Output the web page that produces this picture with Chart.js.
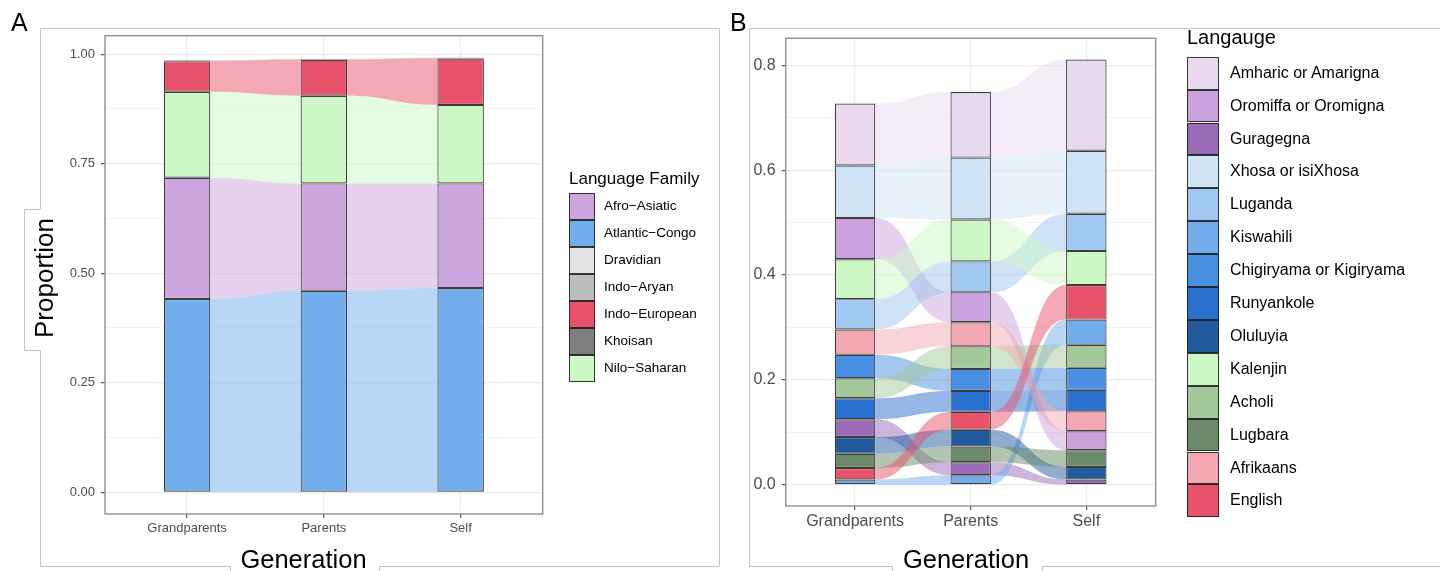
<!DOCTYPE html>
<html>
<head>
<meta charset="utf-8">
<script src="https://cdn.jsdelivr.net/npm/chart.js@4.4.1/dist/chart.umd.min.js"></script>
<style>
  body { margin: 0; background: #fff; }
  #page { position: relative; width: 1440px; height: 571px; overflow: hidden; font-family: "Liberation Sans", Arial, Helvetica, sans-serif; }
  canvas { position: absolute; top: 0; }
  .ln { position: absolute; background: #c4c4c4; }
  .txt { position: absolute; white-space: nowrap; color: #000; }
  .key { position: absolute; box-sizing: border-box; border: 1.5px solid rgba(25,25,25,0.85); }
</style>
</head>
<body>
<div id="page">
  <canvas id="chartA" width="720" height="571" style="left:0"></canvas>
  <canvas id="chartB" width="720" height="571" style="left:720px"></canvas>
</div>
<script>
const FONT = '"Liberation Sans", Arial, Helvetica, sans-serif';
const generations = ['Grandparents', 'Parents', 'Self'];

// A: language family, values per generation (legend order)
const families = ['Afro−Asiatic', 'Atlantic−Congo', 'Dravidian', 'Indo−Aryan', 'Indo−European', 'Khoisan', 'Nilo−Saharan'];
const familyColors = ['#cda6e0', '#72aeec', '#e3e3e3', '#bdbdbd', '#e8536b', '#7f7f7f', '#ccf8c6'];
const familyGrandparents = [0.277, 0.441, 0.0005, 0.001, 0.070, 0.001, 0.196];
const familyParents      = [0.245, 0.460, 0.0005, 0.001, 0.082, 0.001, 0.200];
const familySelf         = [0.239, 0.466, 0.0005, 0.001, 0.106, 0.001, 0.179];
// stacking, bottom to top
const familyStack = ['Atlantic−Congo', 'Afro−Asiatic', 'Nilo−Saharan', 'Indo−European', 'Khoisan', 'Indo−Aryan', 'Dravidian'];
const familyTicks = [0, 0.25, 0.5, 0.75, 1];

// B: language
const languages = ['Amharic or Amarigna', 'Oromiffa or Oromigna', 'Guragegna', 'Xhosa or isiXhosa', 'Luganda', 'Kiswahili',
  'Chigiryama or Kigiryama', 'Runyankole', 'Oluluyia', 'Kalenjin', 'Acholi', 'Lugbara', 'Afrikaans', 'English'];
const languageColors = ['#e9d9ee', '#cba2de', '#9a6bb6', '#cfe3f6', '#a0c8f0', '#72aeec', '#4a90e2', '#2a70cf',
  '#225a9e', '#ccf8c6', '#a3c99a', '#6a8a68', '#f2a7b2', '#e8536b'];
const langGrandparents = [0.118, 0.079, 0.034, 0.100, 0.058, 0.010, 0.045, 0.040, 0.032, 0.076, 0.038, 0.027, 0.048, 0.022];
const langParents      = [0.125, 0.057, 0.025, 0.118, 0.059, 0.018, 0.042, 0.040, 0.032, 0.080, 0.043, 0.030, 0.046, 0.034];
const langSelf         = [0.174, 0.036, 0.010, 0.120, 0.071, 0.048, 0.042, 0.041, 0.024, 0.065, 0.044, 0.032, 0.038, 0.066];
const stackGrandparents = ['Kiswahili', 'English', 'Lugbara', 'Oluluyia', 'Guragegna', 'Runyankole', 'Acholi',
  'Chigiryama or Kigiryama', 'Afrikaans', 'Luganda', 'Kalenjin', 'Oromiffa or Oromigna', 'Xhosa or isiXhosa', 'Amharic or Amarigna'];
const stackParents = ['Kiswahili', 'Guragegna', 'Lugbara', 'Oluluyia', 'English', 'Runyankole', 'Chigiryama or Kigiryama',
  'Acholi', 'Afrikaans', 'Oromiffa or Oromigna', 'Luganda', 'Kalenjin', 'Xhosa or isiXhosa', 'Amharic or Amarigna'];
const stackSelf = ['Guragegna', 'Oluluyia', 'Lugbara', 'Oromiffa or Oromigna', 'Afrikaans', 'Runyankole', 'Chigiryama or Kigiryama',
  'Acholi', 'Kiswahili', 'English', 'Kalenjin', 'Luganda', 'Xhosa or isiXhosa', 'Amharic or Amarigna'];
const languageTicks = [0, 0.2, 0.4, 0.6, 0.8];

function stackColumn(names, values, order) {
  const out = {};
  let base = 0;
  order.forEach(n => {
    const v = values[names.indexOf(n)];
    out[n] = [base, base + v];
    base += v;
  });
  return out;
}

function rgba(hex, a) {
  const n = parseInt(hex.slice(1), 16);
  return `rgba(${n >> 16},${(n >> 8) & 255},${n & 255},${a})`;
}

// flows between neighbouring columns + panel border
function flowPlugin(names, colors, cols, half) {
  return {
    id: 'flows',
    beforeDatasetsDraw(chart) {
      const {ctx, chartArea, scales: {x, y}} = chart;
      ctx.save();
      ctx.beginPath();
      ctx.rect(chartArea.left, chartArea.top, chartArea.width, chartArea.height);
      ctx.clip();
      for (let j = 0; j < cols.length - 1; j++) {
        const x0 = x.getPixelForValue(j + 1 + half);
        const x1 = x.getPixelForValue(j + 2 - half);
        const xm = (x0 + x1) / 2;
        names.forEach((n, i) => {
          const a = cols[j][n], b = cols[j + 1][n];
          const t0 = y.getPixelForValue(a[1]), b0 = y.getPixelForValue(a[0]);
          const t1 = y.getPixelForValue(b[1]), b1 = y.getPixelForValue(b[0]);
          ctx.beginPath();
          ctx.moveTo(x0, t0);
          ctx.bezierCurveTo(xm, t0, xm, t1, x1, t1);
          ctx.lineTo(x1, b1);
          ctx.bezierCurveTo(xm, b1, xm, b0, x0, b0);
          ctx.closePath();
          ctx.fillStyle = rgba(colors[i], 0.5);
          ctx.fill();
        });
      }
      ctx.restore();
    },
    afterDatasetsDraw(chart) {
      const {ctx, chartArea: c} = chart;
      ctx.save();
      ctx.strokeStyle = '#8f8f8f';
      ctx.lineWidth = 1.4;
      ctx.strokeRect(c.left, c.top, c.width, c.height);
      ctx.restore();
    }
  };
}

function alluvial(id, names, colors, values, orders, o) {
  const cols = values.map((vals, j) => stackColumn(names, vals, orders[j]));
  const top = Math.max(...values.map(v => v.reduce((s, d) => s + d, 0)));
  const minor = o.yTicks.slice(1).map((t, i) => (t + o.yTicks[i]) / 2);
  const allTicks = o.yTicks.concat(minor).sort((a, b) => a - b);
  const isMajor = v => o.yTicks.some(t => Math.abs(t - v) < 1e-9);
  const datasets = names.map((n, i) => ({
    label: n,
    data: cols.map((c, j) => ({x: j + 1, y: c[n]})),
    backgroundColor: colors[i]
  }));
  return new Chart(document.getElementById(id), {
    type: 'bar',
    data: {datasets},
    options: {
      responsive: false,
      animation: false,
      events: [],
      layout: {padding: o.padding},
      datasets: {bar: {grouped: false, categoryPercentage: 1, barPercentage: o.barPct, borderSkipped: false,
        inflateAmount: 0, borderWidth: 1.2, borderColor: 'rgba(40,40,40,0.9)'}},
      plugins: {legend: {display: false}, tooltip: {enabled: false}},
      scales: {
        x: {
          type: 'linear', min: 0.4, max: 3.6, offset: false,
          afterBuildTicks: s => { s.ticks = generations.map((g, i) => ({value: i + 1})); },
          afterFit: s => { s.height = 40; },
          border: {display: false},
          grid: {offset: false, color: '#ebebeb', lineWidth: 1.2, tickLength: 4, tickColor: '#555', tickWidth: 1.2},
          ticks: {callback: v => generations[Math.round(v) - 1], color: '#4d4d4d', autoSkip: false, maxRotation: 0,
            padding: o.xPad, font: {family: FONT, size: o.tickSize}}
        },
        y: {
          min: -0.05 * top, max: 1.05 * top,
          afterBuildTicks: s => { s.ticks = allTicks.map(v => ({value: v})); },
          afterFit: s => { s.width = o.yWidth; },
          border: {display: false},
          grid: {
            color: c => isMajor(c.tick.value) ? '#ebebeb' : '#f2f2f2',
            lineWidth: c => isMajor(c.tick.value) ? 1.2 : 0.9,
            tickColor: c => isMajor(c.tick.value) ? '#555' : 'rgba(0,0,0,0)',
            tickLength: 4, tickWidth: 1.2
          },
          ticks: {callback: v => isMajor(v) ? v.toFixed(o.decimals) : '', color: '#4d4d4d', autoSkip: false,
            padding: 6, font: {family: FONT, size: o.tickSize}}
        }
      }
    },
    plugins: [flowPlugin(names, colors, cols, o.barPct / 2)]
  });
}

alluvial('chartA', families, familyColors,
  [familyGrandparents, familyParents, familySelf], [familyStack, familyStack, familyStack],
  {yTicks: familyTicks, decimals: 2, barPct: 0.34, tickSize: 13, xPad: 3, yWidth: 105,
   padding: {left: 0, top: 35.7, right: 177.3, bottom: 17}});

alluvial('chartB', languages, languageColors,
  [langGrandparents, langParents, langSelf], [stackGrandparents, stackParents, stackSelf],
  {yTicks: languageTicks, decimals: 1, barPct: 0.35, tickSize: 16, xPad: 2, yWidth: 65.7,
   padding: {left: 0, top: 38.3, right: 284.3, bottom: 25}});

// ---- surrounding text boxes, frames, legends ----
const page = document.getElementById('page');

function addText(str, style) {
  const d = document.createElement('div');
  d.className = 'txt';
  d.textContent = str;
  Object.assign(d.style, style);
  page.appendChild(d);
  return d;
}

const frame = [
  [40, 28, 719, 28], [719, 28, 719, 566], [40, 566, 230, 566], [379, 566, 719, 566],
  [230, 566, 230, 571], [379, 566, 379, 571], [40, 28, 40, 209], [40, 350, 40, 566],
  [24, 209, 40, 209], [24, 350, 40, 350], [24, 209, 24, 350],
  [749, 28, 1440, 28], [749, 28, 749, 566], [749, 566, 892, 566], [1042, 566, 1440, 566],
  [892, 566, 892, 571], [1042, 566, 1042, 571]
];
frame.forEach(([x1, y1, x2, y2]) => {
  const d = document.createElement('div');
  d.className = 'ln';
  Object.assign(d.style, {left: x1 + 'px', top: y1 + 'px', width: Math.max(1, x2 - x1) + 'px', height: Math.max(1, y2 - y1) + 'px'});
  page.appendChild(d);
});

addText('A', {left: '11px', top: '10.3px', fontSize: '25px', lineHeight: '25px'});
addText('B', {left: '730px', top: '10.3px', fontSize: '25px', lineHeight: '25px'});
addText('Generation', {left: '203.5px', width: '200px', textAlign: 'center', top: '546.7px', fontSize: '25.5px', lineHeight: '25.5px'});
addText('Generation', {left: '866px', width: '200px', textAlign: 'center', top: '546.7px', fontSize: '25.5px', lineHeight: '25.5px'});
addText('Proportion', {left: '-56.4px', width: '200px', textAlign: 'center', top: '265px', fontSize: '26px', lineHeight: '26px',
  transform: 'rotate(-90deg)', transformOrigin: '50% 50%'});

function legend(title, names, colors, o) {
  addText(title, {left: o.x + 'px', top: o.titleTop + 'px', fontSize: o.titleSize + 'px', lineHeight: o.titleSize + 'px'});
  names.forEach((n, i) => {
    const k = document.createElement('div');
    k.className = 'key';
    Object.assign(k.style, {left: o.x + 'px', top: (o.top + i * o.h) + 'px', width: o.w + 'px', height: o.h + 'px', background: colors[i]});
    page.appendChild(k);
    addText(n, {left: o.labelX + 'px', top: (o.top + i * o.h) + 'px', fontSize: o.size + 'px', lineHeight: o.h + 'px'});
  });
}

legend('Language Family', families, familyColors,
  {x: 569, titleTop: 169.5, titleSize: 17, top: 193.3, w: 26, h: 26.9, labelX: 604, size: 13.5});
legend('Langauge', languages, languageColors,
  {x: 1187, titleTop: 27.4, titleSize: 20, top: 56.7, w: 32, h: 32.9, labelX: 1230, size: 16});
</script>
</body>
</html>
